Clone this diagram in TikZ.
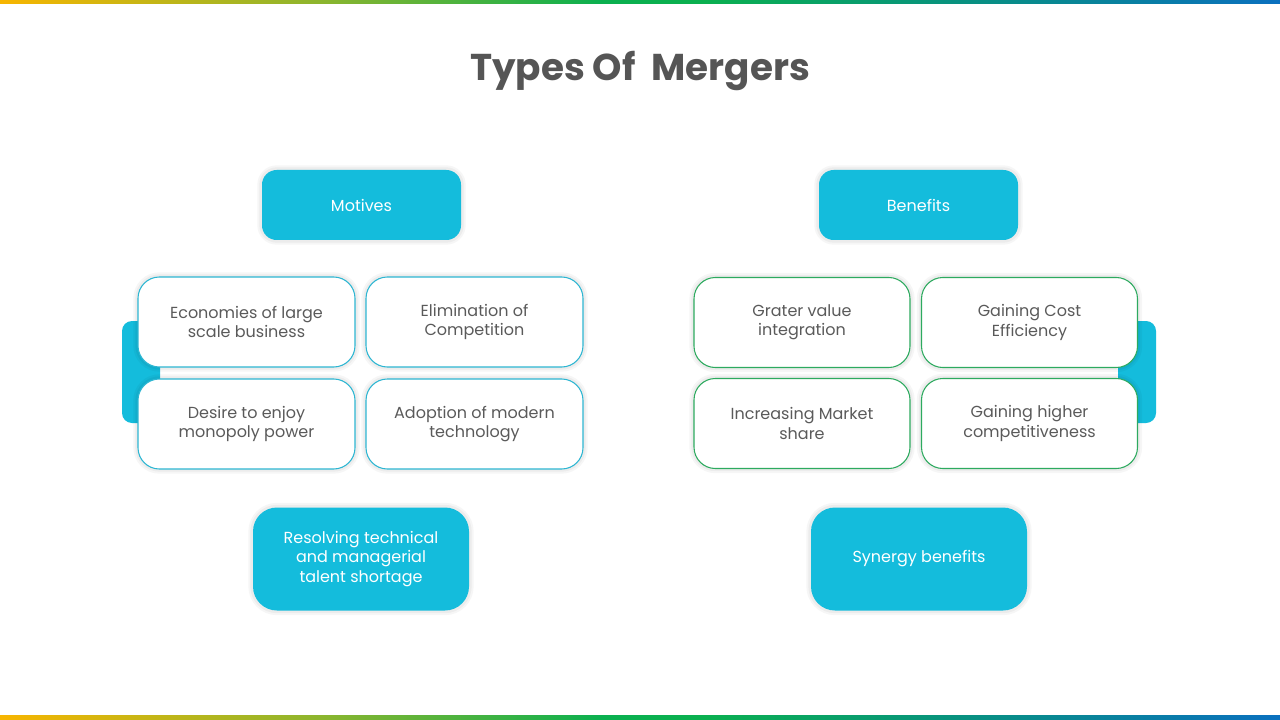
\documentclass[tikz,border=0pt]{standalone}
\usepackage{fontspec}
\setmainfont{Poppins}
\definecolor{cyanfill}{RGB}{20,188,220}
\definecolor{cyanline}{RGB}{45,182,210}
\definecolor{greenline}{RGB}{45,170,95}
\definecolor{txt}{RGB}{90,90,90}
\definecolor{ttl}{RGB}{85,85,85}
\pgfdeclarehorizontalshading{brandbar}{100bp}{
  rgb(0bp)=(0.97,0.71,0);
  rgb(25bp)=(0.97,0.71,0);
  rgb(37.5bp)=(0.55,0.71,0.18);
  rgb(48.5bp)=(0.04,0.69,0.31);
  rgb(52.5bp)=(0.04,0.69,0.31);
  rgb(62.5bp)=(0.03,0.57,0.50);
  rgb(75bp)=(0.04,0.44,0.75);
  rgb(100bp)=(0.04,0.44,0.75)}
\tikzset{
  shad/.style={preaction={draw=black, draw opacity=0.035, line width=7pt},
               preaction={draw=black, draw opacity=0.04, line width=4pt}},
  headbox/.style={shad, fill=cyanfill, rounded corners=11pt, minimum width=149.25pt, minimum height=52.5pt, text=white, font=\fontsize{12}{14.5}\selectfont, align=center, inner sep=0pt},
  footbox/.style={shad, fill=cyanfill, rounded corners=18pt, minimum width=162pt, minimum height=77.25pt, text=white, font=\fontsize{12}{14.5}\selectfont, align=center, inner sep=0pt},
  itemc/.style={shad, fill=white, draw=cyanline, line width=0.8pt, rounded corners=16pt, minimum width=162.75pt, minimum height=67.5pt, text=txt, font=\fontsize{12}{14.5}\selectfont, align=center, inner sep=0pt},
  itemg/.style={itemc, draw=greenline, minimum width=162pt},
  accent/.style={fill=cyanfill, rounded corners=7.5pt},
  bar/.style={shading=brandbar, shading angle=0},
}
\begin{document}
\begin{tikzpicture}[x=0.75pt,y=-0.75pt]
\useasboundingbox (0,0) rectangle (1280,720);
\fill[white] (0,0) rectangle (1280,720);
% gradient bars
\shade[bar] (0,0) rectangle (1280,4);
\shade[bar] (0,715) rectangle (1280,720);
% title
\node[text=ttl, font=\fontsize{28}{33}\selectfont\bfseries] (title) at (640,71) {Types Of \ Mergers};
% headers
\node[headbox] (motives) at (361.5,205) {Motives};
\node[headbox] (benefits) at (918.5,205) {Benefits};
% accent bars
\fill[accent] (122,321) rectangle (160,423);
\fill[accent] (1118,321) rectangle (1156,423);
% left grid
\node[itemc] (m1) at (246.5,322) {Economies of large\\scale business};
\node[itemc] (m2) at (474.5,322) {Elimination of\\Competition};
\node[itemc] (m3) at (246.5,424) {Desire to enjoy\\monopoly power};
\node[itemc] (m4) at (474.5,424) {Adoption of modern\\technology};
% right grid
\node[itemg] (b1) at (802,322.5) {Grater value\\integration};
\node[itemg] (b2) at (1029.5,322.5) {Gaining Cost\\Efficiency};
\node[itemg] (b3) at (802,423.5) {Increasing Market\\share};
\node[itemg] (b4) at (1029.5,423.5) {Gaining higher\\competitiveness};
% footers
\node[footbox] (mfoot) at (361,559) {Resolving technical\\and managerial\\talent shortage};
\node[footbox] (bfoot) at (919,559) {Synergy benefits};
\end{tikzpicture}
\end{document}
